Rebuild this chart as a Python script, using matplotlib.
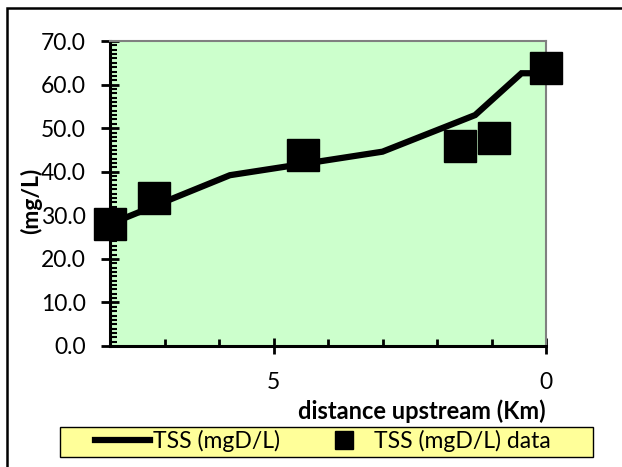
import numpy as np
import matplotlib.pyplot as plt
from matplotlib.patches import Rectangle
from matplotlib.ticker import MultipleLocator, FixedLocator

plt.rcParams['font.family'] = ['Lato', 'DejaVu Sans']

# model line (distance upstream, TSS)
line_x = [8.0, 5.8, 3.0, 1.3, 0.45, 0.0]
line_y = [28.0, 39.2, 44.6, 53.0, 62.6, 62.6]

# observed data
data_x = [8.0, 7.2, 4.45, 1.57, 0.95, 0.0]
data_y = [27.9, 34.0, 43.8, 45.8, 47.7, 63.8]

y_ticks = [0, 10, 20, 30, 40, 50, 60, 70]
x_ticks = [5, 0]

fig = plt.figure(figsize=(6.22, 4.67), dpi=100)
ax = fig.add_axes([110/622, 1 - 346/467, (546-110)/622, (346-41)/467])
ax.set_facecolor('#CCFFCC')

ax.plot(line_x, line_y, color='black', lw=4.5, solid_joinstyle='miter',
        label='TSS (mgD/L)', clip_on=False, zorder=3)
ax.plot(data_x, data_y, 's', color='black', ms=23, ls='none',
        label='TSS (mgD/L) data', clip_on=False, zorder=4)

ax.set_xlim(8, 0)
ax.set_ylim(0, 70)
ax.xaxis.set_major_locator(FixedLocator(x_ticks))
ax.xaxis.set_minor_locator(MultipleLocator(1))
ax.yaxis.set_major_locator(FixedLocator(y_ticks))
ax.yaxis.set_minor_locator(MultipleLocator(1))
ax.set_yticklabels([f'{v:.1f}' for v in y_ticks])

ax.tick_params(axis='x', which='major', direction='inout', length=11, width=2,
               pad=13, labelsize=16.5)
ax.tick_params(axis='x', which='minor', direction='in', length=5, width=2)
ax.tick_params(axis='y', which='major', direction='inout', length=13, width=2,
               pad=11, labelsize=16.5)
ax.tick_params(axis='y', which='minor', direction='in', length=5, width=1.5)

for s in ['left', 'bottom']:
    ax.spines[s].set_linewidth(2.2)
    ax.spines[s].set_color('black')
for s in ['top', 'right']:
    ax.spines[s].set_linewidth(1.5)
    ax.spines[s].set_color('#808080')

fig.text(422/622, 1 - 411/467, 'distance upstream (Km)', ha='center', va='center',
         fontsize=17, fontweight='bold')
fig.text(31/622, 1 - 201/467, '(mg/L)', ha='center', va='center', rotation=90,
         fontsize=16.5, fontweight='bold')

# legend box
fig.patches.append(Rectangle((60/622, 1 - 457/467), 533/622, 30/467,
                             transform=fig.transFigure, facecolor='#FFFF99',
                             edgecolor='black', lw=1.0, zorder=1))
leg = fig.legend(loc='center left', ncol=2, bbox_to_anchor=(95/622, 1 - 441/467),
                 fontsize=16.5, frameon=False, borderpad=0, borderaxespad=0,
                 handlelength=2.4, handletextpad=0.12, columnspacing=1.6,
                 markerscale=0.55)
leg.set_zorder(2)

fig.patches.append(Rectangle((7/622, -0.1), 1.2, 1.1 - 8/467,
                             transform=fig.transFigure, fill=False,
                             edgecolor='black', lw=1.8))

fig.savefig('out.png', dpi=100)
